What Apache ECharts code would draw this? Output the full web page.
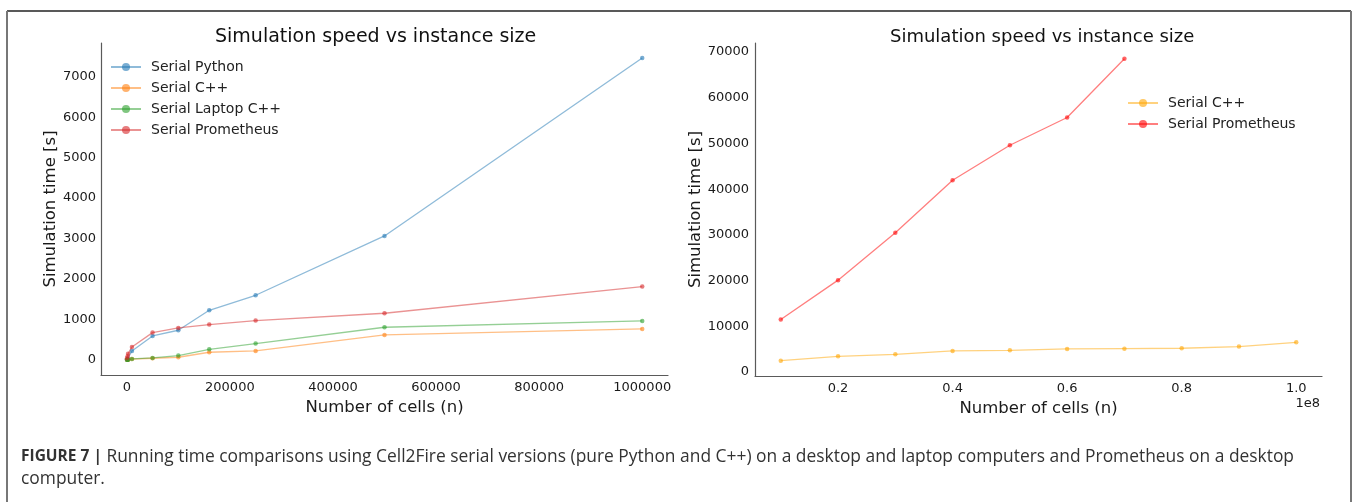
<!DOCTYPE html>
<html>
<head>
<meta charset="utf-8">
<script src="https://cdn.jsdelivr.net/npm/echarts@6/dist/echarts.min.js"></script>
<style>
html,body{margin:0;padding:0;background:#fff;}
#c{width:1358px;height:502px;}
</style>
</head>
<body>
<div id="c"></div>
<script>
// ---- Data ----
const chartTitle = 'Simulation speed vs instance size';
const xAxisTitle = 'Number of cells (n)';
const yAxisTitle = 'Simulation time [s]';

// Left panel
const cellsLeft = [400, 1600, 2500, 10000, 50000, 100000, 160000, 250000, 500000, 1000000];
const serialPython = [3, 15, 30, 220, 593, 733, 1227, 1598, 3064, 7461];
const serialCpp = [1, 3, 5, 20, 41, 66, 189, 222, 618, 766];
const serialLaptopCpp = [1, 4, 6, 25, 49, 107, 263, 404, 807, 964];
const serialPrometheus = [40, 90, 150, 321, 675, 791, 873, 972, 1153, 1812];
const leftXTicks = [0, 200000, 400000, 600000, 800000, 1000000];
const leftYTicks = [0, 1000, 2000, 3000, 4000, 5000, 6000, 7000];

// Right panel
const cellsRight = [1e7, 2e7, 3e7, 4e7, 5e7, 6e7, 7e7, 8e7, 9e7, 1e8];
const serialCppLarge = [2480, 3430, 3870, 4600, 4750, 5040, 5110, 5190, 5550, 6500];
const serialPrometheusLarge = [11470, 20090, 30470, 41940, 49610, 55680, 68540];
const rightXTicks = [2e7, 4e7, 6e7, 8e7, 1e8];
const rightYTicks = [0, 10000, 20000, 30000, 40000, 50000, 60000, 70000];
const rightOffsetText = '1e8';

const captionBold = 'FIGURE 7 |';
const captionLine1 = ' Running time comparisons using Cell2Fire serial versions (pure Python and C++) on a desktop and laptop computers and Prometheus on a desktop';
const captionLine2 = 'computer.';

// ---- Build ----
const FONT = 'DejaVu Sans';
const CAP_FONT = 'Open Sans';
const pair = (xs, ys) => ys.map((y, i) => [xs[i], y]);
const plain = v => String(v);

function mkSeries(name, xs, ys, rgb, xi) {
  return {
    name, type: 'line', xAxisIndex: xi, yAxisIndex: xi,
    data: pair(xs, ys),
    symbol: 'circle', symbolSize: 4.5,
    lineStyle: { width: 1.3, color: 'rgba(' + rgb + ',0.5)' },
    itemStyle: { color: 'rgba(' + rgb + ',0.6)' },
    emphasis: { disabled: true },
    animation: false
  };
}

function axisBase() {
  return {
    axisLine: { show: true, onZero: false, lineStyle: { color: '#5a5a5a', width: 1.2 } },
    axisTick: { show: false },
    splitLine: { show: false },
    nameTextStyle: { fontFamily: FONT, fontSize: 16.5, color: '#1a1a1a' }
  };
}

const chart = echarts.init(document.getElementById('c'), null, { renderer: 'canvas' });

const option = {
  backgroundColor: '#ffffff',
  animation: false,
  title: [
    { text: chartTitle, left: 215, top: 28, padding: 0,
      textStyle: { fontFamily: FONT, fontSize: 19, fontWeight: 'normal', color: '#111' } },
    { text: chartTitle, left: 890, top: 28, padding: 0,
      textStyle: { fontFamily: FONT, fontSize: 18, fontWeight: 'normal', color: '#111' } },
    { text: '{b|' + captionBold + '}' + captionLine1 + '\n' + captionLine2,
      left: 21, top: 446, padding: 0,
      textStyle: { fontFamily: CAP_FONT, fontSize: 17.4, fontWeight: 'normal', color: '#333', lineHeight: 22,
        rich: { b: { fontFamily: CAP_FONT, fontSize: 15.5, fontWeight: 'bold', color: '#333', lineHeight: 22 } } } }
  ],
  legend: [
    { data: ['Serial Python', 'Serial C++', 'Serial Laptop C++', 'Serial Prometheus'],
      orient: 'vertical', left: 110, top: 60, itemWidth: 30, itemHeight: 10, itemGap: 7,
      selectedMode: false, padding: 0,
      textStyle: { fontFamily: FONT, fontSize: 14, color: '#222', padding: [0, 0, 0, 5] } },
    { data: ['Serial C++ ', 'Serial Prometheus '],
      orient: 'vertical', left: 1127, top: 96, itemWidth: 30, itemHeight: 10, itemGap: 7,
      selectedMode: false, padding: 0,
      textStyle: { fontFamily: FONT, fontSize: 14, color: '#222', padding: [0, 0, 0, 5] } }
  ],
  grid: [
    { left: 101, top: 43, width: 567, height: 332, containLabel: false },
    { left: 755, top: 43, width: 567, height: 333, containLabel: false }
  ],
  xAxis: [
    Object.assign(axisBase(), {
      type: 'value', gridIndex: 0, min: -50000, max: 1050000,
      name: xAxisTitle, nameLocation: 'middle', nameGap: 23,
      axisLabel: { customValues: leftXTicks, margin: 6, fontFamily: FONT, fontSize: 13, color: '#1a1a1a', formatter: plain }
    }),
    Object.assign(axisBase(), {
      type: 'value', gridIndex: 1, min: 5.5e6, max: 1.045e8,
      name: xAxisTitle, nameLocation: 'middle', nameGap: 23,
      axisLabel: { customValues: rightXTicks, margin: 6, fontFamily: FONT, fontSize: 13, color: '#1a1a1a',
        formatter: v => (v / 1e8).toFixed(1) }
    })
  ],
  yAxis: [
    Object.assign(axisBase(), {
      type: 'value', gridIndex: 0, min: -373, max: 7834,
      name: yAxisTitle, nameLocation: 'middle', nameGap: 38,
      axisLabel: { customValues: leftYTicks, margin: 5, fontFamily: FONT, fontSize: 13, color: '#1a1a1a', formatter: plain }
    }),
    Object.assign(axisBase(), {
      type: 'value', gridIndex: 1, min: -877, max: 71970,
      name: yAxisTitle, nameLocation: 'middle', nameGap: 47,
      axisLabel: { customValues: rightYTicks, margin: 6, fontFamily: FONT, fontSize: 13, color: '#1a1a1a', formatter: plain }
    })
  ],
  graphic: [
    { type: 'line', shape: { x1: 7, y1: 11, x2: 1351, y2: 11 }, style: { stroke: '#222', lineWidth: 1.5 } },
    { type: 'line', shape: { x1: 7, y1: 11, x2: 7, y2: 502 }, style: { stroke: '#777', lineWidth: 2 } },
    { type: 'line', shape: { x1: 1351, y1: 11, x2: 1351, y2: 502 }, style: { stroke: '#777', lineWidth: 2 } },
    { type: 'text', right: 38, top: 397, style: { text: rightOffsetText, fontFamily: FONT, fontSize: 13, fill: '#1a1a1a' } }
  ],
  series: [
    mkSeries('Serial Python', cellsLeft, serialPython, '31,119,180', 0),
    mkSeries('Serial C++', cellsLeft, serialCpp, '255,127,14', 0),
    mkSeries('Serial Laptop C++', cellsLeft, serialLaptopCpp, '44,160,44', 0),
    mkSeries('Serial Prometheus', cellsLeft, serialPrometheus, '214,39,40', 0),
    mkSeries('Serial C++ ', cellsRight, serialCppLarge, '255,165,0', 1),
    mkSeries('Serial Prometheus ', cellsRight, serialPrometheusLarge, '255,0,0', 1)
  ]
};
chart.setOption(option);
</script>
</body>
</html>
